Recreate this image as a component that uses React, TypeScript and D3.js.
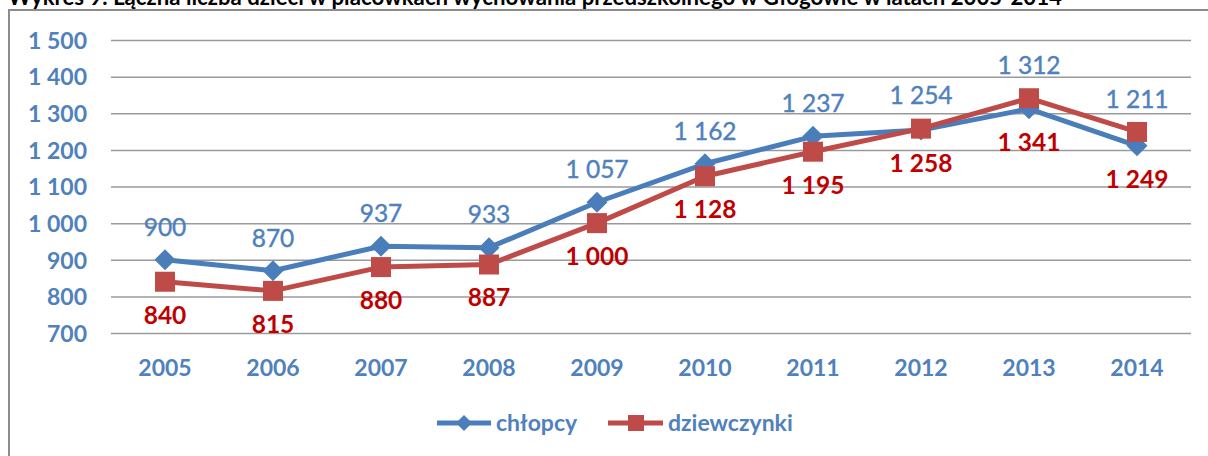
import React, { useEffect, useRef } from 'react'
import * as d3 from 'd3'

const TITLE = 'Wykres 9. Łączna liczba dzieci w placówkach wychowania przedszkolnego w Głogowie w latach 2005-2014'
const YEARS = ['2005', '2006', '2007', '2008', '2009', '2010', '2011', '2012', '2013', '2014']
const BOYS = [900, 870, 937, 933, 1057, 1162, 1237, 1254, 1312, 1211]
const GIRLS = [840, 815, 880, 887, 1000, 1128, 1195, 1258, 1341, 1249]
const Y_TICKS = [700, 800, 900, 1000, 1100, 1200, 1300, 1400, 1500]
const SERIES_NAMES = ['chłopcy', 'dziewczynki']

const width = 1208
const height = 456
const plot = { left: 111, right: 1191, top: 40, bottom: 333 }
const FONT = 'Lato, Carlito, Calibri, sans-serif'
const BLUE = '#4a7ebb'
const RED = '#be4b48'
const AXIS_BLUE = '#4f81bd'
const LABEL_RED = '#c00000'

const fmt = d3.formatLocale({ decimal: ',', thousands: ' ', grouping: [3], currency: ['', ' zł'] }).format(',d')

function diamond(cx: number, cy: number, r: number) {
  return `M${cx},${cy - r}L${cx + r},${cy}L${cx},${cy + r}L${cx - r},${cy}Z`
}

export default function App() {
  const ref = useRef<SVGSVGElement>(null)

  useEffect(() => {
    const svg = d3.select(ref.current)
    svg.selectAll('*').remove()

    const x = d3.scaleBand<string>().domain(YEARS).range([plot.left, plot.right])
    const y = d3.scaleLinear().domain([700, 1500]).range([plot.bottom, plot.top])
    const cx = (i: number) => (x(YEARS[i]) as number) + x.bandwidth() / 2

    // title (cut off at the top in the original)
    svg.append('text')
      .attr('x', 8).attr('y', 5)
      .attr('font-family', FONT).attr('font-weight', 700).attr('font-size', 22)
      .attr('textLength', 1054).attr('lengthAdjust', 'spacingAndGlyphs')
      .attr('fill', '#000')
      .text(TITLE)

    // chart frame
    svg.append('path')
      .attr('d', `M9,${height}V10H${width}`)
      .attr('fill', 'none').attr('stroke', '#8c8c8c').attr('stroke-width', 2)

    // y axis + gridlines
    const yAxis = svg.append('g')
      .attr('transform', `translate(${plot.left},0)`)
      .call(d3.axisLeft(y).tickValues(Y_TICKS).tickFormat(d => fmt(d as number))
        .tickSize(-(plot.right - plot.left)).tickPadding(24))
    yAxis.select('.domain').remove()
    yAxis.selectAll('.tick line').attr('stroke', '#9a9a9a').attr('stroke-width', 1.5)
    yAxis.selectAll('.tick text')
      .attr('fill', AXIS_BLUE).attr('font-family', FONT).attr('font-weight', 700).attr('font-size', 23)
      .attr('dy', '0.36em')

    // x labels
    svg.append('g').selectAll('text').data(YEARS).join('text')
      .attr('x', (d, i) => cx(i)).attr('y', 376)
      .attr('text-anchor', 'middle')
      .attr('fill', AXIS_BLUE).attr('font-family', FONT).attr('font-weight', 700).attr('font-size', 23)
      .text(d => d)

    const line = d3.line<number>().x((d, i) => cx(i)).y(d => y(d))

    // chłopcy
    svg.append('path').datum(BOYS)
      .attr('d', line).attr('fill', 'none').attr('stroke', BLUE).attr('stroke-width', 5)
      .attr('stroke-linejoin', 'round')
    svg.append('g').selectAll('path').data(BOYS).join('path')
      .attr('d', (d, i) => diamond(cx(i), y(d), 10.5)).attr('fill', BLUE)

    // dziewczynki
    svg.append('path').datum(GIRLS)
      .attr('d', line).attr('fill', 'none').attr('stroke', RED).attr('stroke-width', 5)
      .attr('stroke-linejoin', 'round')
    svg.append('g').selectAll('rect').data(GIRLS).join('rect')
      .attr('x', (d, i) => cx(i) - 10).attr('y', d => y(d) - 10)
      .attr('width', 20).attr('height', 20).attr('fill', RED)

    // data labels: boys above the higher point, girls below the lower one
    svg.append('g').selectAll('text').data(BOYS).join('text')
      .attr('x', (d, i) => cx(i)).attr('y', (d, i) => y(Math.max(d, GIRLS[i])) - 33)
      .attr('dy', '0.36em').attr('text-anchor', 'middle')
      .attr('fill', AXIS_BLUE).attr('stroke', AXIS_BLUE).attr('stroke-width', 0.4)
      .attr('font-family', FONT).attr('font-size', 24.5)
      .text(d => fmt(d))
    svg.append('g').selectAll('text').data(GIRLS).join('text')
      .attr('x', (d, i) => cx(i)).attr('y', (d, i) => y(Math.min(d, BOYS[i])) + 33)
      .attr('dy', '0.36em').attr('text-anchor', 'middle')
      .attr('fill', LABEL_RED).attr('font-family', FONT).attr('font-weight', 700).attr('font-size', 24.5)
      .text(d => fmt(d))

    // legend
    const legend = svg.append('g').attr('font-family', FONT).attr('font-weight', 700)
      .attr('font-size', 23).attr('fill', AXIS_BLUE)
    legend.append('line').attr('x1', 437).attr('x2', 491).attr('y1', 423).attr('y2', 423)
      .attr('stroke', BLUE).attr('stroke-width', 5)
    legend.append('path').attr('d', diamond(464, 423, 8)).attr('fill', BLUE)
    legend.append('text').attr('x', 496).attr('y', 431).text(SERIES_NAMES[0])
    legend.append('line').attr('x1', 608).attr('x2', 663).attr('y1', 423).attr('y2', 423)
      .attr('stroke', RED).attr('stroke-width', 5)
    legend.append('rect').attr('x', 628).attr('y', 415).attr('width', 16).attr('height', 16).attr('fill', RED)
    legend.append('text').attr('x', 668).attr('y', 431).text(SERIES_NAMES[1])
  }, [])

  return (
    <svg ref={ref} width={width} height={height}
      style={{ position: 'absolute', left: 0, top: 0, background: '#fff' }} />
  )
}
